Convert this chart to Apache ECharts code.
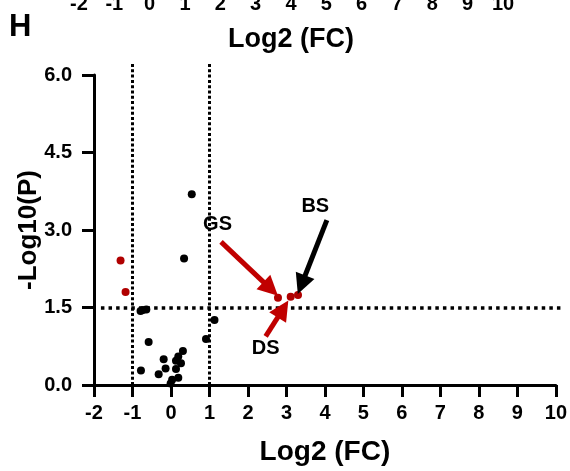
<!DOCTYPE html>
<html>
<head>
<meta charset="utf-8">
<script src="https://cdn.jsdelivr.net/npm/echarts@6/dist/echarts.min.js"></script>
<style>
html, body { margin: 0; padding: 0; background: #fff; }
#main { width: 570px; height: 471px; }
</style>
</head>
<body>
<div id="main"></div>
<script>
// volcano plot, panel H
var xTicks = [-2, -1, 0, 1, 2, 3, 4, 5, 6, 7, 8, 9, 10];
var yTicks = [0, 1.5, 3, 4.5, 6];

// black = not significant, red = significant
var blackPoints = [
    [0.54, 3.69], [0.34, 2.45],
    [-0.73, 1.45], [-0.64, 1.46], [-0.79, 1.43],
    [1.13, 1.26], [0.91, 0.89], [-0.58, 0.83], [-0.78, 0.28],
    [0.31, 0.66], [0.19, 0.55], [-0.19, 0.50], [0.26, 0.42],
    [0.13, 0.47], [-0.14, 0.32], [0.13, 0.31], [-0.32, 0.21],
    [0.03, 0.10], [0.19, 0.14], [-0.01, 0.03]
];
var redPoints = [
    [-1.31, 2.41], [-1.18, 1.80],
    [2.78, 1.69], [3.11, 1.71], [3.30, 1.74]
];

var fcCut = [-1, 1];
var pCut = 1.5;

// annotation arrows: [start, end]
var redArrows = [
    [[1.30, 2.77], [2.59, 1.86]],   // GS
    [[2.46, 0.94], [2.91, 1.47]]    // DS
];
var blackArrows = [
    [[4.05, 3.19], [3.39, 1.94]]    // BS
];
var labels = [
    { name: 'GS', coord: [1.21, 3.10] },
    { name: 'DS', coord: [2.46, 0.71] },
    { name: 'BS', coord: [3.75, 3.45] }
];

var FONT = 'Liberation Sans';

function arrowData(list, color) {
    return list.map(function (a) {
        return [
            { coord: a[0], symbol: 'none', lineStyle: { color: color, width: 5, type: 'solid' }, itemStyle: { color: color } },
            { coord: a[1], symbol: 'triangle', symbolSize: [20, 20], itemStyle: { color: color } }
        ];
    });
}

// threshold lines; the dotted lines run a bit past the axis ends,
// so those ends are given in pixels once the scales exist
function cutLines(chart) {
    var vStyle = { color: '#000', width: 3, type: [3, 2.3] };
    var hStyle = { color: '#000', width: 3.5, type: [3.5, 4.1] };
    var lines = [];
    fcCut.forEach(function (fc) {
        var top = chart ? chart.convertToPixel({ gridIndex: 0 }, [fc, 6]) : null;
        lines.push([
            { coord: [fc, 0], symbol: 'none', lineStyle: vStyle },
            top ? { x: top[0], y: top[1] - 11, symbol: 'none' } : { coord: [fc, 6], symbol: 'none' }
        ]);
    });
    var right = chart ? chart.convertToPixel({ gridIndex: 0 }, [10, pCut]) : null;
    lines.push([
        { coord: [-1.82, pCut], symbol: 'none', lineStyle: hStyle },
        right ? { x: right[0] + 5, y: right[1], symbol: 'none' } : { coord: [10, pCut], symbol: 'none' }
    ]);
    return lines;
}

var myChart = echarts.init(document.getElementById('main'), null, { renderer: 'canvas' });

var option = {
    animation: false,
    backgroundColor: '#fff',
    graphic: [{
        type: 'text', left: 9, top: 12,
        style: { text: 'H', font: 'bold 31px ' + FONT, fill: '#000' }
    }],
    grid: [
        { left: 94, right: 11, top: 75, bottom: 86 },
        // cut-off axis of the panel above
        { left: 79, right: 67, top: -39, height: 20 }
    ],
    xAxis: [{
        type: 'value', gridIndex: 0,
        min: -2, max: 10, interval: 1,
        name: 'Log2 (FC)', nameLocation: 'middle', nameGap: 53, nameMoveOverlap: false,
        nameTextStyle: { fontFamily: FONT, fontWeight: 'bold', fontSize: 28, color: '#000' },
        axisLine: { onZero: false, lineStyle: { color: '#000', width: 3 } },
        axisTick: { length: 12, lineStyle: { color: '#000', width: 3 } },
        axisLabel: { margin: 18, fontFamily: FONT, fontWeight: 'bold', fontSize: 20, color: '#000' },
        splitLine: { show: false }
    }, {
        type: 'value', gridIndex: 1,
        min: -2, max: 10, interval: 1,
        name: 'Log2 (FC)', nameLocation: 'middle', nameGap: 40, nameMoveOverlap: false,
        nameTextStyle: { fontFamily: FONT, fontWeight: 'bold', fontSize: 27, color: '#000' },
        axisLine: { show: false },
        axisTick: { show: false },
        axisLabel: { margin: 8, fontFamily: FONT, fontWeight: 'bold', fontSize: 20, color: '#000' },
        splitLine: { show: false }
    }],
    yAxis: [{
        type: 'value', gridIndex: 0,
        min: 0, max: 6, interval: 1.5,
        name: '-Log10(P)', nameLocation: 'middle', nameGap: 52, nameMoveOverlap: false,
        nameTextStyle: { fontFamily: FONT, fontWeight: 'bold', fontSize: 26, color: '#000' },
        axisLine: { show: true, onZero: false, lineStyle: { color: '#000', width: 3 } },
        axisTick: { show: true, length: 12, lineStyle: { color: '#000', width: 3 } },
        axisLabel: {
            margin: 22, fontFamily: FONT, fontWeight: 'bold', fontSize: 20, color: '#000',
            formatter: function (v) { return v.toFixed(1); }
        },
        splitLine: { show: false }
    }, {
        type: 'value', gridIndex: 1, show: false
    }],
    series: [{
        name: 'ns', type: 'scatter', symbolSize: 8,
        itemStyle: { color: '#000', opacity: 1 },
        data: blackPoints,
        markLine: {
            silent: true, label: { show: false }, symbol: ['none', 'none'],
            data: cutLines(null).concat(arrowData(blackArrows, '#000'))
        }
    }, {
        name: 'sig', type: 'scatter', symbolSize: 8,
        itemStyle: { color: '#b00000', opacity: 1 },
        data: redPoints,
        markLine: {
            silent: true, label: { show: false }, symbol: ['none', 'none'],
            data: arrowData(redArrows, '#c00000')
        },
        markPoint: {
            symbol: 'circle', symbolSize: 0,
            label: {
                show: true, position: 'inside', formatter: '{b}',
                fontFamily: FONT, fontWeight: 'bold', fontSize: 20, color: '#000'
            },
            data: labels.map(function (l) { return { name: l.name, coord: l.coord }; })
        }
    }]
};

myChart.setOption(option);
// second pass: extend the dotted lines now that the scales are known
myChart.setOption({
    series: [{
        name: 'ns',
        markLine: { data: cutLines(myChart).concat(arrowData(blackArrows, '#000')) }
    }]
});
</script>
</body>
</html>
